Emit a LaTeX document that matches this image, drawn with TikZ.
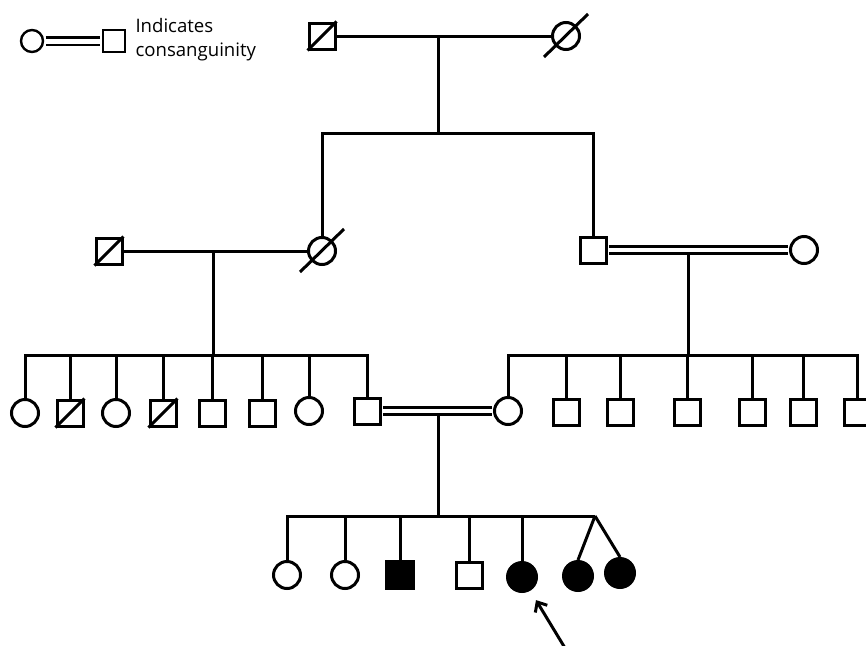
\documentclass[tikz,border=0pt]{standalone}
\usepackage{fontspec}
\setsansfont{Open Sans}
\usetikzlibrary{arrows.meta}

\tikzset{
    male/.style={draw, rectangle, minimum size=26pt, inner sep=0pt},
    female/.style={draw, circle, minimum size=27pt, inner sep=0pt},
    affected/.style={fill=black, minimum size=29pt},
    consang/.style={double, double distance=4pt, shorten <=1.4pt, shorten >=1.4pt},
}

\begin{document}
\begin{tikzpicture}[x=1pt, y=-1pt, line width=3pt]
    \useasboundingbox (0,0) rectangle (866,645);
    \clip (0,0) rectangle (866,645);

    %% Legend
    \node[female, minimum size=22pt, line width=2.4pt] (lf) at (32,41) {};
    \node[male, minimum size=22pt, line width=2.4pt] (lm) at (114,41) {};
    \draw[consang, line width=2.4pt, double distance=5pt] (lf) -- (lm);
    \node[anchor=west, align=left, inner sep=0pt,
          font=\sffamily\fontsize{18.6}{24}\selectfont] (ltext) at (134,40) {Indicates\\consanguinity};

    %% Generation I
    % Grandparents
    \node[male] (I1) at (322,36) {};
    \draw (I1.south west) -- (I1.north east);
    \node[female] (I2) at (566,36) {};
    \draw ([shift={(-22,21)}]I2.center) -- ([shift={(22,-22)}]I2.center);
    \draw (I1) -- (I2);

    % Descent
    \coordinate (m1) at (438,36);
    \coordinate (s1) at (438,133);
    \draw (m1) -- (s1);

    %% Generation II
    \node[male] (II1) at (109,251) {};
    \draw (II1.south west) -- (II1.north east);
    \node[female] (II2) at (322,251) {};
    \draw ([shift={(-22,21)}]II2.center) -- ([shift={(22,-22)}]II2.center);
    \node[male] (II3) at (593,250) {};
    \node[female] (II4) at (804,250) {};
    \draw (II2.north) |- (s1) -| (II3.north);

    % Marriages
    \draw (II1) -- (II2);
    \draw[consang] (II3) -- (II4);

    % Descent
    \coordinate (m2) at (213,251);
    \coordinate (s2) at (213,355);
    \draw (m2) -- (s2);
    \coordinate (m3) at (688,255);
    \coordinate (s3) at (688,355);
    \draw (m3) -- (s3);

    %% Generation III, left sibship
    \node[female] (III1) at (25,413) {};
    \node[male] (III2) at (70,413) {};
    \draw (III2.south west) -- (III2.north east);
    \node[female] (III3) at (116,413) {};
    \node[male] (III4) at (163,413) {};
    \draw (III4.south west) -- (III4.north east);
    \node[male] (III5) at (212,413) {};
    \node[male] (III6) at (262,413) {};
    \node[female] (III7) at (309,411) {};
    \node[male] (III8) at (367,411) {};
    \draw (III1.north) |- (s2) -| (III8.north);
    \draw (s2 -| III2) -- (III2.north);
    \draw (s2 -| III3) -- (III3.north);
    \draw (s2 -| III4) -- (III4.north);
    \draw (s2 -| III5) -- (III5.north);
    \draw (s2 -| III6) -- (III6.north);
    \draw (s2 -| III7) -- (III7.north);

    %% Generation III, right sibship
    \node[female] (III9) at (508,411) {};
    \node[male] (III10) at (566,412) {};
    \node[male] (III11) at (620,412) {};
    \node[male] (III12) at (687,412) {};
    \node[male] (III13) at (752,412) {};
    \node[male] (III14) at (803,412) {};
    \node[male] (III15) at (857,412) {};
    \draw (III9.north) |- (s3) -| (III15.north);
    \draw (s3 -| III10) -- (III10.north);
    \draw (s3 -| III11) -- (III11.north);
    \draw (s3 -| III12) -- (III12.north);
    \draw (s3 -| III13) -- (III13.north);
    \draw (s3 -| III14) -- (III14.north);

    % Consanguineous marriage
    \draw[consang] (III8) -- (III9);
    \coordinate (m4) at (438,416);
    \coordinate (s4) at (438,516);
    \draw (m4) -- (s4);

    %% Generation IV
    \node[female] (IV1) at (287,575) {};
    \node[female] (IV2) at (345,575) {};
    \node[male, affected, minimum size=27pt] (IV3) at (400,575) {};
    \node[male] (IV4) at (469,575) {};
    \node[female, affected] (IV5) at (522,577) {};
    \node[female, affected] (IV6) at (578,576) {};
    \node[female, affected] (IV7) at (620,573) {};
    \coordinate (tw) at (595,516);
    \draw (IV1.north) |- (s4) -- (tw);
    \draw (s4 -| IV2) -- (IV2.north);
    \draw (s4 -| IV3) -- (IV3.north);
    \draw (s4 -| IV4) -- (IV4.north);
    \draw (s4 -| IV5) -- (IV5.north);

    % Twins
    \draw (tw) -- (IV6.north);
    \draw (tw) -- (IV7.north);

    % Proband
    \coordinate (pb) at (565,648);
    \draw[-{Straight Barb[length=8pt, width=14pt]}, shorten >=11pt] (pb) -- (IV5);

\end{tikzpicture}
\end{document}
